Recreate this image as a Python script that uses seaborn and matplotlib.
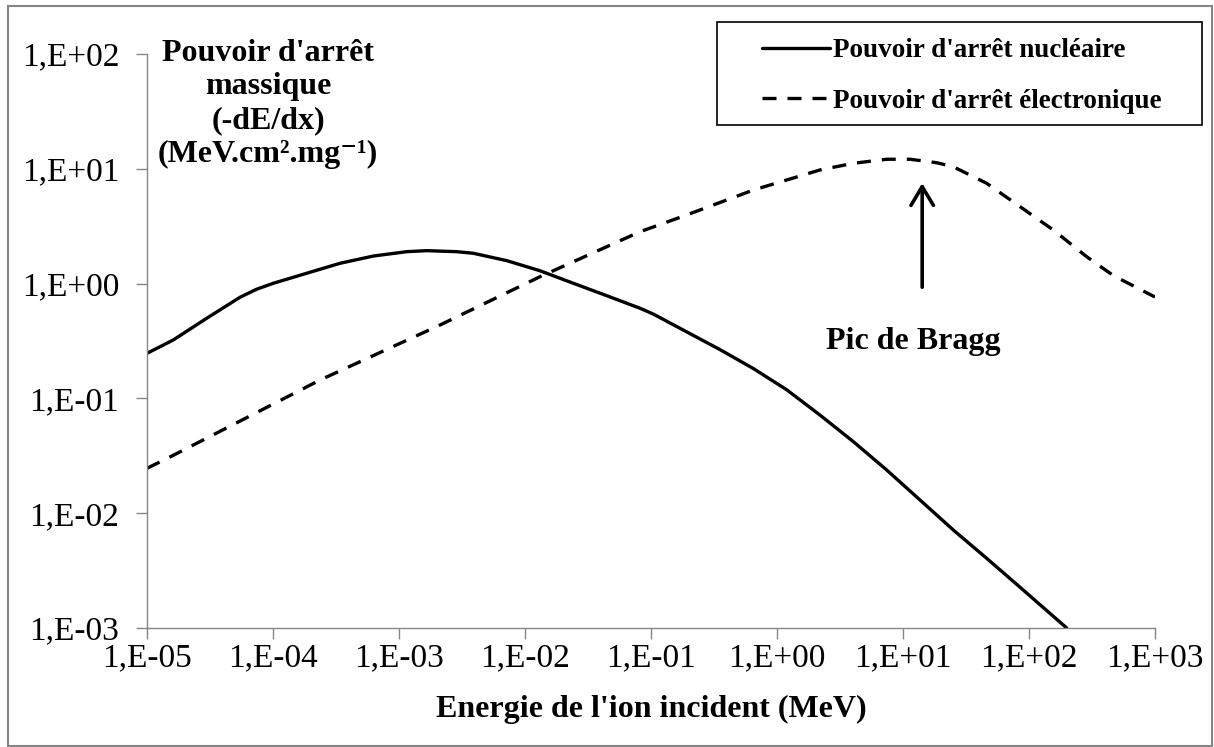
import numpy as np
import pandas as pd
import matplotlib
matplotlib.use("Agg")
import matplotlib.pyplot as plt
import seaborn as sns
from matplotlib.patches import Rectangle
from matplotlib.ticker import FixedLocator, NullLocator

# ---- data (energy in MeV, stopping power in MeV.cm2/mg)
nuc_energy = [1.0e-5, 1.618e-5, 2.979e-5, 5.47e-5, 7.41e-5, 1.007e-4, 1.849e-4, 3.404e-4,
              6.25e-4, 1.151e-3, 1.660e-3, 2.871e-3, 3.89e-3, 7.16e-3, 1.315e-2, 2.415e-2,
              4.446e-2, 8.18e-2, 0.1042, 0.1919, 0.353, 0.649, 1.194, 2.193, 4.036, 7.43,
              13.65, 25.06, 46.1, 84.9, 199.1]
nuc_power = [0.247, 0.323, 0.499, 0.760, 0.893, 1.007, 1.230, 1.503,
             1.738, 1.897, 1.936, 1.897, 1.837, 1.585, 1.294, 1.007,
             0.785, 0.610, 0.543, 0.380, 0.266, 0.182, 0.1189, 0.0716, 0.0420, 0.02377,
             0.01303, 0.00714, 0.00405, 0.002265, 0.0010]

ele_energy = [1.0e-5, 1.622e-5, 2.36e-4, 2.113e-3, 1.315e-2, 8.18e-2, 0.1919, 0.649,
              2.193, 4.036, 7.43, 11.38, 18.49, 25.06, 46.1, 84.9, 156.0, 287.1, 466.7, 1000.0]
ele_power = [0.0246, 0.0320, 0.1445, 0.4355, 1.148, 2.83, 3.963, 6.53,
             9.77, 11.17, 12.11, 12.11, 11.30, 10.42, 7.48, 4.68, 2.93, 1.714, 1.175, 0.764]

series_names = ["Pouvoir d'arrêt nucléaire", "Pouvoir d'arrêt électronique"]
x_ticks = [1e-5, 1e-4, 1e-3, 1e-2, 1e-1, 1e0, 1e1, 1e2, 1e3]
x_tick_labels = ["1,E-05", "1,E-04", "1,E-03", "1,E-02", "1,E-01", "1,E+00", "1,E+01", "1,E+02", "1,E+03"]
y_ticks = [1e-3, 1e-2, 1e-1, 1e0, 1e1, 1e2]
y_tick_labels = ["1,E-03", "1,E-02", "1,E-01", "1,E+00", "1,E+01", "1,E+02"]
bragg_x = 14.2
bragg_tip = 7.5
bragg_tail = 0.93
bragg_label_y = 0.31

df = pd.concat([
    pd.DataFrame({"E": nuc_energy, "S": nuc_power, "serie": series_names[0]}),
    pd.DataFrame({"E": ele_energy, "S": ele_power, "serie": series_names[1]}),
])

sns.set_theme(style="white")
plt.rcParams["font.family"] = ["Liberation Serif", "DejaVu Serif"]
plt.rcParams["text.color"] = "black"
plt.rcParams["axes.labelcolor"] = "black"

W, H = 1214, 747
fig = plt.figure(figsize=(W / 100, H / 100), dpi=100)
ax = fig.add_axes([147 / W, 1 - 628 / H, (1155 - 147) / W, (628 - 54) / H])

sns.lineplot(data=df, x="E", y="S", hue="serie", style="serie",
             palette=["black", "black"],
             dashes={series_names[0]: "", series_names[1]: (4.2, 3.3)},
             linewidth=2.4, ax=ax, sort=False, estimator=None, legend=True)

ax.set_xscale("log")
ax.set_yscale("log")
ax.set_xlim(1e-5, 1e3)
ax.set_ylim(1e-3, 1e2)
ax.xaxis.set_major_locator(FixedLocator(x_ticks))
ax.yaxis.set_major_locator(FixedLocator(y_ticks))
ax.xaxis.set_minor_locator(NullLocator())
ax.yaxis.set_minor_locator(NullLocator())
ax.set_xticklabels(x_tick_labels)
ax.set_yticklabels(y_tick_labels)
ax.tick_params(axis="both", which="major", direction="out", length=8, width=1.0,
               color="#868686", labelsize=24, labelcolor="black",
               bottom=True, left=True, top=False, right=False)
ax.tick_params(axis="y", pad=12)
ax.tick_params(axis="x", pad=3)
for s in ["top", "right"]:
    ax.spines[s].set_visible(False)
for s in ["left", "bottom"]:
    ax.spines[s].set_color("#868686")
    ax.spines[s].set_linewidth(1.0)
ax.grid(False)

ax.set_xlabel("Energie de l'ion incident (MeV)", fontsize=23, fontweight="bold",
              labelpad=15, color="black")
ax.set_ylabel("")

ax.text(0.12, 1.027, "Pouvoir d'arrêt\nmassique\n(-dE/dx)\n(MeV.cm².mg⁻¹)",
        transform=ax.transAxes, ha="center", va="top", multialignment="center",
        fontsize=23, fontweight="bold", linespacing=1.22, color="black")

ax.annotate("", xy=(bragg_x, bragg_tip), xytext=(bragg_x, bragg_tail),
            arrowprops=dict(arrowstyle="->,head_length=0.45,head_width=0.27",
                            lw=2.6, color="black", mutation_scale=30, shrinkA=0, shrinkB=0))
ax.text(bragg_x * 0.85, bragg_label_y, "Pic de Bragg", ha="center", va="center",
        fontsize=23, fontweight="bold", color="black")

leg = ax.legend(loc="upper left", bbox_to_anchor=(762 / W, 1 - 38 / H),
                bbox_transform=fig.transFigure, borderaxespad=0,
                frameon=False,
                prop={"family": "Liberation Serif", "weight": "bold", "size": 19.5},
                handlelength=2.5, handletextpad=0.12, labelspacing=0.95,
                borderpad=0)
for t in leg.get_texts():
    t.set_color("black")
for h in leg.get_lines():
    h.set_linewidth(2.4)

# legend frame and figure border (chart-area outlines)
fig.add_artist(Rectangle((717 / W, 1 - 125 / H), (1202 - 717) / W, (125 - 22) / H,
                         transform=fig.transFigure, fill=False,
                         edgecolor="black", linewidth=1.2))
fig.add_artist(Rectangle((8 / W, 1 / H), (1212 - 8) / W, (741 - 1) / H,
                         transform=fig.transFigure, fill=False,
                         edgecolor="#868686", linewidth=1.5))

fig.savefig("out.png", dpi=100)
